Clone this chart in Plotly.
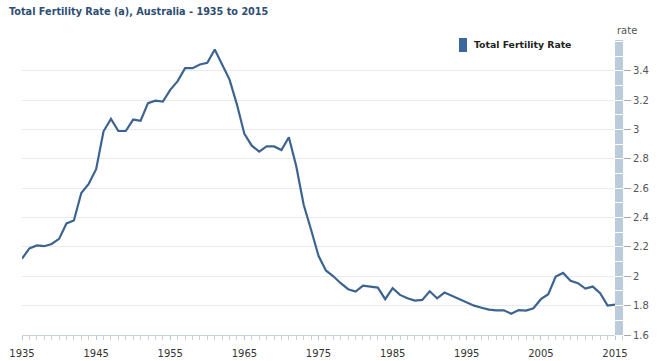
import plotly.graph_objects as go

years = list(range(1935, 2016))
tfr = [
    2.12, 2.19, 2.21, 2.205, 2.22, 2.255, 2.36, 2.38, 2.567, 2.63,   # 1935-1944
    2.73, 2.988, 3.072, 2.99, 2.99, 3.068, 3.06, 3.18, 3.197, 3.19,   # 1945-1954
    3.27, 3.33, 3.418, 3.418, 3.443, 3.455, 3.545, 3.443, 3.34, 3.17, # 1955-1964
    2.97, 2.89, 2.85, 2.885, 2.885, 2.86, 2.947, 2.75, 2.487, 2.317,  # 1965-1974
    2.14, 2.04, 2.0, 1.953, 1.912, 1.896, 1.937, 1.93, 1.923, 1.844,  # 1975-1984
    1.919, 1.873, 1.85, 1.834, 1.839, 1.898, 1.85, 1.889, 1.866, 1.846, # 1985-1994
    1.823, 1.80, 1.786, 1.773, 1.768, 1.768, 1.745, 1.77, 1.766, 1.782, # 1995-2004
    1.844, 1.878, 1.998, 2.023, 1.97, 1.953, 1.916, 1.93, 1.885, 1.80,  # 2005-2014
    1.807,                                                              # 2015
]
x_tick_years = [1935, 1945, 1955, 1965, 1975, 1985, 1995, 2005, 2015]
y_tick_vals = [1.6, 1.8, 2.0, 2.2, 2.4, 2.6, 2.8, 3.0, 3.2, 3.4]
y_tick_text = ["1.6", "1.8", "2", "2.2", "2.4", "2.6", "2.8", "3", "3.2", "3.4"]

title_text = "Total Fertility Rate (a), Australia - 1935 to 2015"
series_name = "Total Fertility Rate"

FONT = "DejaVu Sans"
W, H = 660, 361
ML, MR, MT, MB = 22, 37, 40, 26
plot_w = W - ML - MR
plot_h = H - MT - MB
x_end = 2015 + 8 / ((615 - 22) / 80)

fig = go.Figure()
fig.add_trace(go.Scatter(
    x=years, y=tfr, mode="lines", name=series_name,
    line=dict(color="#3d6491", width=2.2), showlegend=False,
    hoverinfo="x+y",
))

fig.update_layout(
    width=W, height=H,
    margin=dict(l=ML, r=MR, t=MT, b=MB, autoexpand=False),
    paper_bgcolor="white", plot_bgcolor="white",
    font=dict(family=FONT, size=10, color="#333333"),
    showlegend=False,
    xaxis=dict(
        range=[1935, x_end], tickmode="array", tickvals=x_tick_years,
        ticktext=[str(v) for v in x_tick_years],
        showgrid=False, zeroline=False, automargin=False,
        showline=True, linecolor="#c8d2dc", linewidth=1,
        ticks="outside", ticklen=4, tickcolor="#b8c6d4",
        ticklabelstandoff=5,
        minor=dict(ticks="outside", dtick=1, tick0=1935, ticklen=4, tickcolor="#c8d2dc"),
        tickfont=dict(family=FONT, size=10, color="#333333"),
        fixedrange=True,
    ),
    yaxis=dict(
        range=[1.6, 3.61], side="right", tickmode="array",
        tickvals=y_tick_vals, ticktext=y_tick_text,
        showgrid=True, gridcolor="#e8ebee", gridwidth=1,
        zeroline=False, showline=False, automargin=False,
        ticks="outside", ticklen=7, tickcolor="#a8a8a8",
        minor=dict(ticks="inside", dtick=0.1, tick0=1.6, ticklen=8, tickcolor="white", tickwidth=1),
        tickfont=dict(family=FONT, size=10, color="#555555"),
        fixedrange=True,
    ),
    shapes=[
        dict(type="rect", xref="paper", yref="paper",
             x0=(615 - 22) / plot_w, x1=1.0, y0=0, y1=1,
             fillcolor="#bccbdb", line=dict(width=0), layer="below"),
        dict(type="rect", xref="paper", yref="paper",
             x0=(459 - 22) / plot_w, x1=(467 - 22) / plot_w,
             y0=(H - MB - 52) / plot_h, y1=(H - MB - 38) / plot_h,
             fillcolor="#3a679c", line=dict(width=0)),
    ],
    annotations=[
        dict(text="<b>" + title_text + "</b>", xref="paper", yref="paper",
             x=-(ML - 7) / plot_w, y=1 + (MT - 11) / plot_h,
             xanchor="left", yanchor="middle", showarrow=False,
             font=dict(family=FONT, size=9.7, color="#2e4d73")),
        dict(text="<b>" + series_name + "</b>", xref="paper", yref="paper",
             x=(472 - 22) / plot_w, y=(H - MB - 45) / plot_h,
             xanchor="left", yanchor="middle", showarrow=False,
             font=dict(family=FONT, size=9.3, color="#222222")),
        dict(text="rate", xref="paper", yref="paper",
             x=1 + (615 - 623) / plot_w, y=1 + (MT - 30) / plot_h,
             xanchor="left", yanchor="middle", showarrow=False,
             font=dict(family=FONT, size=10, color="#555555")),
    ],
)

fig.write_html("out.html",
               config={"displayModeBar": False},
               post_script="document.body.style.margin='0';document.body.style.overflow='hidden';")
